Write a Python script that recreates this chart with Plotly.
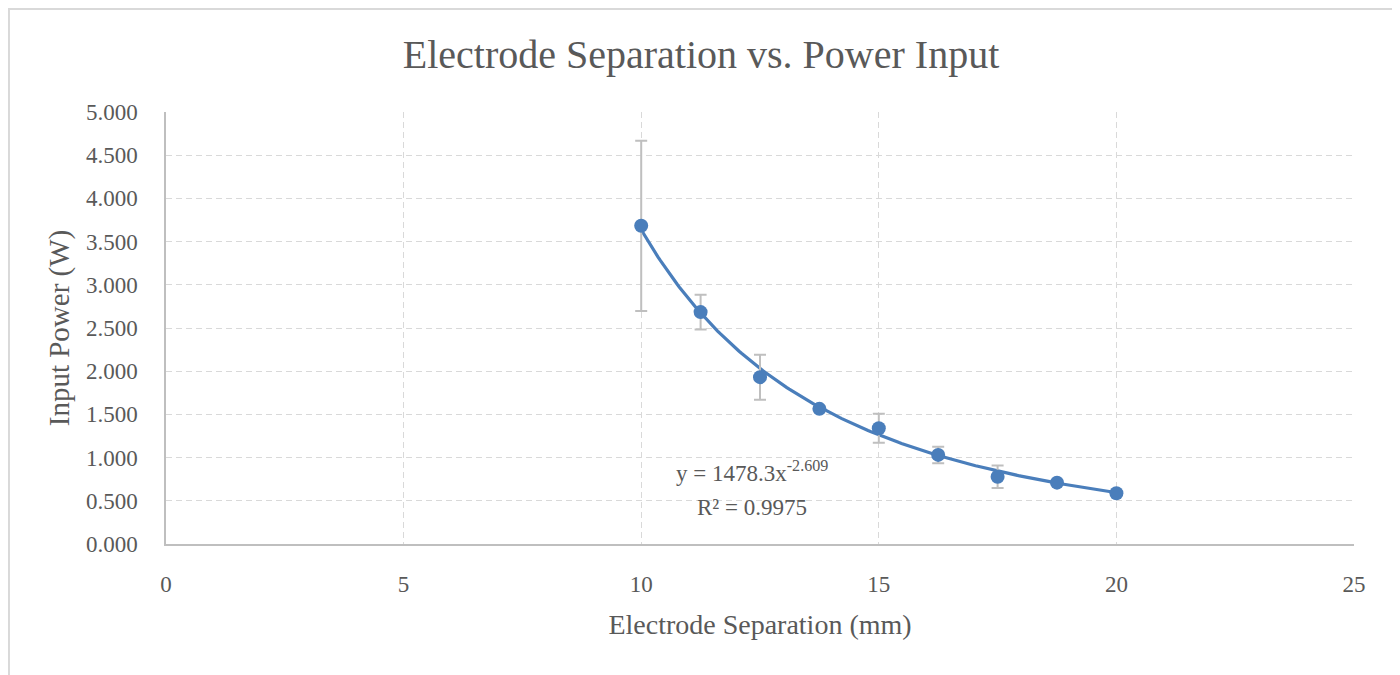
import numpy as np
import plotly.graph_objects as go

separation_mm = [10, 11.25, 12.5, 13.75, 15, 16.25, 17.5, 18.75, 20]
power_w = [3.683, 2.684, 1.931, 1.564, 1.340, 1.031, 0.779, 0.710, 0.587]
power_err = [0.985, 0.20, 0.26, 0.03, 0.168, 0.096, 0.13, 0.02, 0.02]

fit_coef = 1478.3
fit_exp = -2.609
fit_r2 = 0.9975

x_ticks = [0, 5, 10, 15, 20, 25]
y_ticks = [0, 0.5, 1, 1.5, 2, 2.5, 3, 3.5, 4, 4.5, 5]

FONT = "Liberation Serif"
TXT = "#595959"
BLUE = "#4a7ebb"

xf = np.linspace(min(separation_mm), max(separation_mm), 200)
yf = fit_coef * xf ** fit_exp

fig = go.Figure()
fig.add_trace(go.Scatter(
    x=xf, y=yf, mode="lines",
    line=dict(color=BLUE, width=3.2), hoverinfo="skip", showlegend=False))
fig.add_trace(go.Scatter(
    x=separation_mm, y=power_w, mode="markers",
    marker=dict(color=BLUE, size=14),
    error_y=dict(type="data", array=power_err, visible=True,
                 color="#bfbfbf", thickness=2, width=6),
    showlegend=False))

fig.add_annotation(x=12.33, y=0.84, xref="x", yref="y",
                   text=f"y = {fit_coef}x<sup>{fit_exp}</sup>", showarrow=False,
                   font=dict(family=FONT, size=23, color=TXT))
fig.add_annotation(x=12.33, y=0.42, xref="x", yref="y",
                   text=f"R² = {fit_r2}", showarrow=False,
                   font=dict(family=FONT, size=23, color=TXT))

# chart border (Excel chart area outline)
fig.add_shape(type="rect", xref="paper", yref="paper",
              x0=-0.1322, x1=1.0345, y0=-0.32, y1=1.2384,
              line=dict(color="#d9d9d9", width=2), fillcolor="rgba(0,0,0,0)")

fig.update_layout(
    width=1400, height=675,
    paper_bgcolor="white", plot_bgcolor="white",
    margin=dict(l=158, r=54, t=104, b=139),
    title=dict(text="Electrode Separation vs. Power Input",
               x=0.495, xanchor="center", xref="container",
               y=0.932, yref="container", yanchor="middle",
               font=dict(family=FONT, size=40, color=TXT)),
    font=dict(family=FONT, color=TXT),
    xaxis=dict(range=[0, 25], tickvals=x_ticks, showgrid=True,
               gridcolor="#d9d9d9", griddash="6px,4px", gridwidth=1.3,
               showline=True, linecolor="#bfbfbf", linewidth=1.5,
               zeroline=False, ticks="", ticklabelstandoff=19,
               tickfont=dict(family=FONT, size=23, color=TXT),
               title=dict(text="Electrode Separation (mm)", standoff=18,
                          font=dict(family=FONT, size=28, color=TXT))),
    yaxis=dict(range=[0, 5], tickvals=y_ticks, tickformat=".3f",
               showgrid=True, gridcolor="#d9d9d9", griddash="6px,4px",
               gridwidth=1.3, showline=True, linecolor="#bfbfbf",
               linewidth=1.5, zeroline=False, ticks="",
               ticklabelstandoff=22,
               tickfont=dict(family=FONT, size=23, color=TXT),
               title=dict(text="Input Power (W)", standoff=8,
                          font=dict(family=FONT, size=29, color=TXT))),
)

fig.write_html("out.html")
